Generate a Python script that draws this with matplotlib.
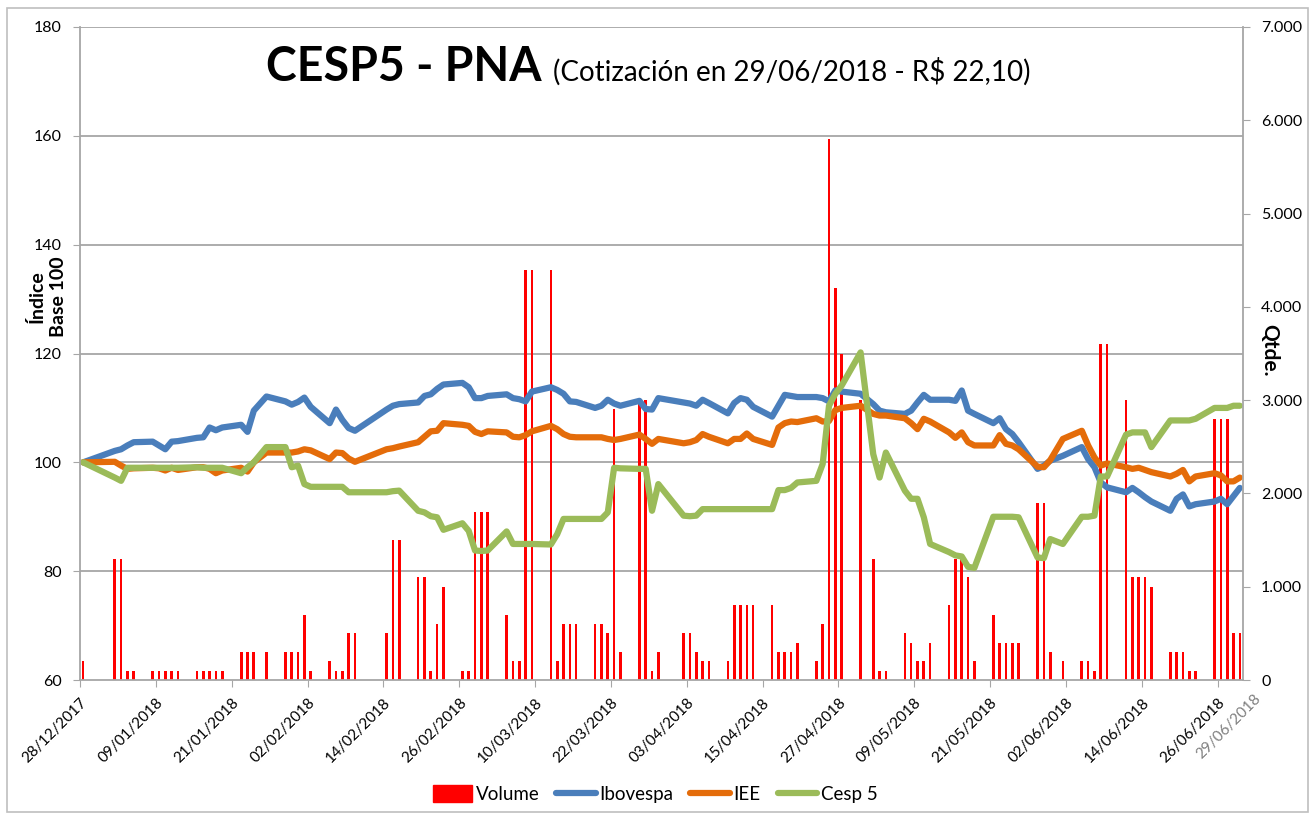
import numpy as np
import pandas as pd
import matplotlib
matplotlib.use('Agg')
import matplotlib.pyplot as plt
import matplotlib.dates as mdates
import matplotlib.ticker as mticker
from matplotlib.lines import Line2D
from matplotlib.patches import Patch, Rectangle

plt.rcParams['font.family'] = ['Lato', 'DejaVu Sans']

# B3 trading days (market holidays removed)
holidays = ['2017-12-29', '2018-01-01', '2018-01-25', '2018-02-12', '2018-02-13',
            '2018-03-30', '2018-05-01', '2018-05-31']
dates = pd.bdate_range('2017-12-28', '2018-06-29', freq='C', holidays=holidays)

# traded quantity (right axis)
volume = [200,
          1300, 1300, 100, 100,
          100, 100, 100, 100, 100,
          100, 100, 100, 100, 100,
          300, 300, 300, 300,
          300, 300, 300, 700, 100,
          200, 100, 100, 500, 500,
          500, 1500, 1500,
          1100, 1100, 100, 600, 1000,
          100, 100, 1800, 1800, 1800,
          700, 200, 200, 4400, 4400,
          4400, 200, 600, 600, 600,
          600, 600, 500, 2900, 300,
          3000, 3000, 100, 300,
          500, 500, 300, 200, 200,
          200, 800, 800, 800, 800,
          800, 300, 300, 300, 400,
          200, 600, 5800, 4200, 3500,
          3000,
          1300, 100, 100,
          500, 400, 200, 200, 400,
          800, 1300, 1300, 1100, 200,
          700, 400, 400, 400, 400,
          1900, 1900, 300,
          200,
          200, 200, 100, 3600, 3600,
          3000, 1100, 1100, 1100, 1000,
          300, 300, 300, 100, 100,
          2800, 2800, 2800, 500, 500]

# index, base 100 (left axis)
ibovespa = [100.0,
            102.1, 102.4, 103.1, 103.7,
            103.8, 103.1, 102.4, 103.8, 103.9,
            104.5, 104.6, 106.4, 105.9, 106.4,
            106.9, 105.6, 109.5, 112.1,
            111.2, 110.6, 111.1, 111.9, 110.2,
            107.2, 109.7, 107.8, 106.3, 105.8,
            109.7, 110.4, 110.7,
            111.0, 112.2, 112.5, 113.5, 114.3,
            114.6, 113.8, 111.8, 111.8, 112.2,
            112.5, 111.8, 111.6, 111.2, 113.0,
            113.8, 113.3, 112.6, 111.2, 111.1,
            110.0, 110.4, 111.5, 110.8, 110.4,
            111.3, 109.8, 109.7, 111.8,
            111.0, 110.8, 110.4, 111.5, 110.9,
            109.0, 110.9, 111.8, 111.5, 110.2,
            108.4, 110.4, 112.4, 112.2, 112.0,
            112.0, 111.8, 111.2, 113.2, 113.0,
            112.6,
            110.7, 109.5, 109.2,
            108.9, 109.5, 111.0, 112.4, 111.5,
            111.5, 111.3, 113.2, 109.5, 108.9,
            107.2, 108.1, 106.1, 105.2, 103.7,
            98.8, 99.4, 100.3,
            101.2,
            102.8, 100.6, 99.1, 96.3, 95.4,
            94.5, 95.3, 94.5, 93.6, 92.8,
            91.1, 93.3, 94.1, 91.9, 92.3,
            92.8, 93.3, 92.3, 93.8, 95.3]

iee = [100.0,
       100.1, 99.4, 98.8, 98.9,
       99.0, 98.9, 98.5, 99.0, 98.6,
       99.1, 99.1, 98.8, 98.0, 98.5,
       99.0, 98.3, 100.0, 101.8,
       101.8, 101.8, 102.0, 102.4, 102.2,
       100.6, 101.8, 101.7, 100.7, 100.1,
       102.4, 102.6, 102.9,
       103.7, 104.7, 105.7, 105.8, 107.2,
       106.9, 106.7, 105.6, 105.2, 105.7,
       105.5, 104.7, 104.6, 105.0, 105.7,
       106.7, 106.1, 105.2, 104.7, 104.6,
       104.6, 104.6, 104.3, 104.1, 104.3,
       105.1, 104.3, 103.4, 104.3,
       103.5, 103.7, 104.1, 105.2, 104.7,
       103.5, 104.3, 104.3, 105.3, 104.3,
       103.2, 106.4, 107.2, 107.5, 107.4,
       108.1, 107.5, 107.6, 109.6, 110.0,
       110.4,
       108.9, 108.6, 108.6,
       108.1, 107.2, 106.1, 108.0, 107.5,
       105.5, 104.5, 105.5, 103.7, 103.1,
       103.1, 105.0, 103.4, 103.1, 102.4,
       99.2, 99.1, 100.4,
       104.3,
       105.8, 103.1, 100.9, 99.4, 99.8,
       99.1, 98.8, 99.0, 98.6, 98.2,
       97.4, 97.9, 98.6, 96.5, 97.4,
       98.0, 97.6, 96.5, 96.5, 97.2]

cesp5 = [100.0,
         97.2, 96.6, 99.0, 99.0,
         99.0, 99.0, 99.0, 99.0, 99.0,
         99.1, 99.0, 99.0, 99.0, 99.0,
         98.0, 99.1, 100.0, 102.8,
         102.8, 99.1, 99.4, 96.0, 95.5,
         95.5, 95.5, 95.5, 94.5, 94.5,
         94.5, 94.7, 94.8,
         91.1, 90.8, 90.1, 89.9, 87.6,
         88.8, 87.4, 83.8, 83.7, 83.8,
         87.3, 85.0, 85.0, 85.0, 85.0,
         84.9, 86.8, 89.6, 89.6, 89.6,
         89.6, 89.6, 90.8, 99.0, 98.9,
         98.8, 98.8, 91.1, 96.0,
         90.2, 90.1, 90.2, 91.4, 91.4,
         91.4, 91.4, 91.4, 91.4, 91.4,
         91.4, 94.9, 94.9, 95.3, 96.3,
         96.6, 99.7, 110.4, 112.6, 114.1,
         120.2,
         101.5, 97.2, 101.8,
         94.8, 93.3, 93.3, 89.9, 85.0,
         83.5, 82.9, 82.7, 80.8, 80.6,
         90.0, 90.0, 90.0, 90.0, 89.9,
         82.5, 82.4, 85.9,
         85.0,
         90.0, 90.0, 90.2, 97.4, 97.4,
         105.1, 105.5, 105.5, 105.5, 102.8,
         107.7, 107.7, 107.7, 107.7, 108.0,
         110.0, 110.0, 110.0, 110.4, 110.4]

tick_dates = pd.date_range('2017-12-28', '2018-06-26', freq='12D')

W, H = 1311, 816
fig = plt.figure(figsize=(W / 100, H / 100), dpi=100)

# outer chart border
fig.patches.append(Rectangle((7 / W, 1 - 812 / H), 1301 / W, 804 / H,
                             transform=fig.transFigure, fill=False,
                             edgecolor='#BFBFBF', linewidth=1.2))

ax = fig.add_axes([80 / W, 1 - 680 / H, (1243 - 80) / W, (680 - 27) / H])
ax2 = ax.twinx()
ax.set_zorder(2)
ax.patch.set_visible(False)
ax2.set_zorder(1)

grey = '#A6A6A6'
x = mdates.date2num(dates) + 0.5

# gridlines behind the bars
for v in range(80, 181, 20):
    ax2.plot([0, 1], [v, v], transform=ax.get_yaxis_transform(),
             color=grey, lw=1.3, zorder=0)

ax2.bar(x, volume, width=0.42, color='#FF0000', zorder=2)

ax.plot(x, ibovespa, color='#4A7EBB', lw=4.5, solid_capstyle='round', solid_joinstyle='round')
ax.plot(x, iee, color='#E46C0A', lw=4.5, solid_capstyle='round', solid_joinstyle='round')
ax.plot(x, cesp5, color='#9BBB59', lw=4.5, solid_capstyle='round', solid_joinstyle='round')

ax.set_ylim(60, 180)
ax.set_yticks(range(60, 181, 20))
ax2.set_ylim(0, 7000)
ax2.set_yticks(range(0, 7001, 1000))
ax2.yaxis.set_major_formatter(mticker.FuncFormatter(lambda v, p: f'{int(v):,}'.replace(',', '.')))

ax.set_xlim(mdates.date2num(pd.Timestamp('2017-12-28')), mdates.date2num(pd.Timestamp('2018-06-30')))
ax.set_xticks(mdates.date2num(tick_dates))
ax.set_xticklabels([d.strftime('%d/%m/%Y') for d in tick_dates],
                   rotation=45, ha='right', rotation_mode='anchor')

for a in (ax, ax2):
    for s in a.spines.values():
        s.set_visible(False)
for side in ('left', 'right', 'bottom'):
    ax.spines[side].set_visible(True)
    ax.spines[side].set_color(grey)
    ax.spines[side].set_linewidth(1.3)

ax.tick_params(axis='y', direction='out', length=5, color=grey, labelsize=11.5, pad=8)
ax.tick_params(axis='x', direction='out', length=5, color=grey, labelsize=11, pad=6)
ax2.tick_params(axis='y', direction='out', length=5, color=grey, labelsize=11.5, pad=8)

# extra grey end date label
ax.annotate('29/06/2018', xy=(mdates.date2num(pd.Timestamp('2018-07-03')), 0),
            xycoords=('data', 'axes fraction'), xytext=(0, -14), textcoords='offset points',
            rotation=45, ha='right', va='baseline', rotation_mode='anchor',
            fontsize=11, color='#7F7F7F', annotation_clip=False)

# axis titles
fig.text(37 / W, 1 - 297 / H, 'Índice', rotation=90, ha='center', va='center',
         fontsize=14, fontweight='bold')
fig.text(59 / W, 1 - 297 / H, 'Base 100', rotation=90, ha='center', va='center',
         fontsize=14, fontweight='bold')
fig.text(1269 / W, 1 - 350 / H, 'Qtde.', rotation=270, ha='center', va='center',
         fontsize=15, fontweight='bold')

# title
fig.text(541 / W, 1 - 81 / H, 'CESP5 - PNA', ha='right', va='baseline',
         fontsize=33.5, fontweight='bold')
fig.text(553 / W, 1 - 81 / H, '(Cotización en 29/06/2018 - R$ 22,10)', ha='left',
         va='baseline', fontsize=20)

handles = [Patch(color='#FF0000'),
           Line2D([], [], color='#4A7EBB', lw=4.5, solid_capstyle='round'),
           Line2D([], [], color='#E46C0A', lw=4.5, solid_capstyle='round'),
           Line2D([], [], color='#9BBB59', lw=4.5, solid_capstyle='round')]
fig.legend(handles, ['Volume', 'Ibovespa', 'IEE', 'Cesp 5'], loc='center',
           bbox_to_anchor=(655 / W, 1 - 794 / H), ncol=4, frameon=False,
           fontsize=13.5, handlelength=2.1, handleheight=1.0, handletextpad=0.2,
           columnspacing=0.9)

fig.savefig('out.png', dpi=100)
